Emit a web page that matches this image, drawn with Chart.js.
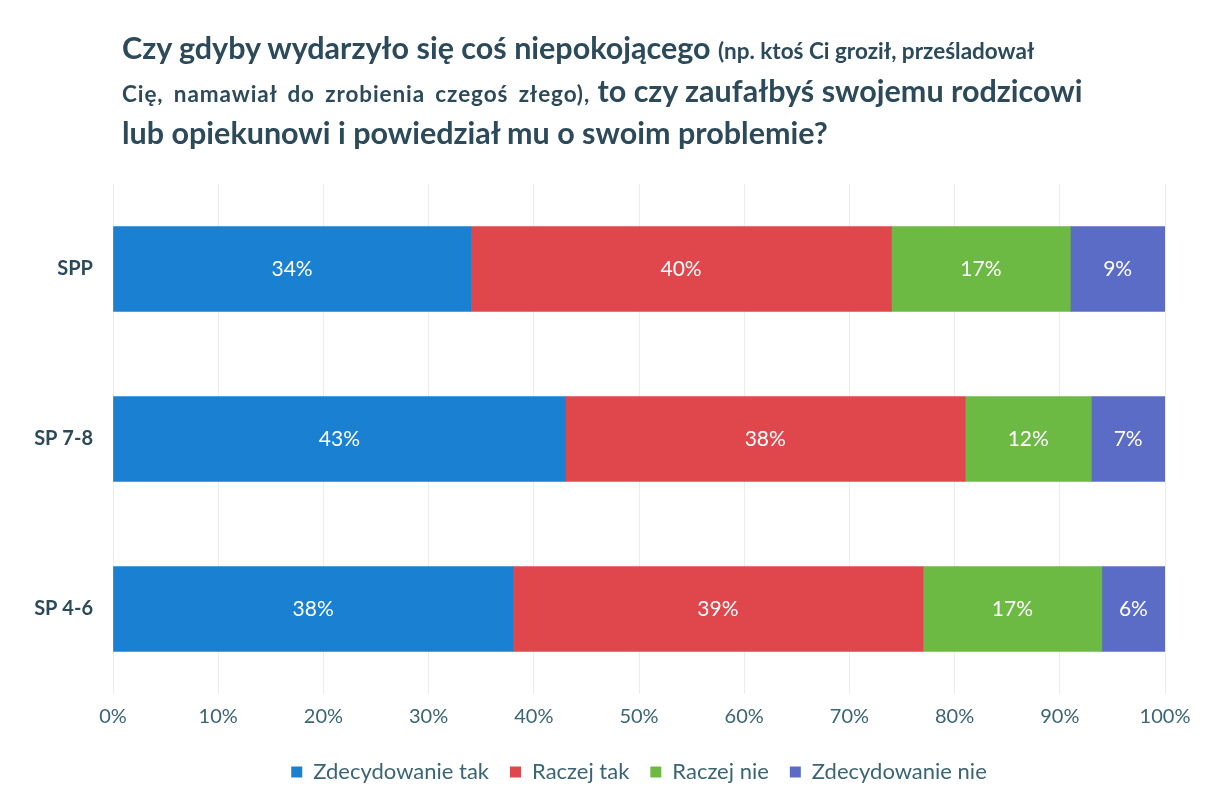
<!DOCTYPE html>
<html>
<head>
<meta charset="utf-8">
<script src="https://cdn.jsdelivr.net/npm/chart.js@4"></script>
<style>
  html, body { margin: 0; padding: 0; background: #fff; }
  #wrap { position: relative; width: 1211px; height: 804px; }
  #title {
    position: absolute; left: 122px; top: 28px; width: 1080px;
    font-family: Lato, "Noto Sans", sans-serif; font-weight: bold;
    color: #2c4a5a; font-size: 30.5px; line-height: 38.5px;
  }
  #title .small { font-size: 22.5px; }
  #title .l2 { word-spacing: 4px; letter-spacing: 0.9px; }
</style>
</head>
<body>
<div id="wrap">
  <div id="title">Czy gdyby wydarzyło się coś niepokojącego <span class="small">(np. ktoś Ci groził, prześladował</span><br><span class="small l2">Cię, namawiał do zrobienia czegoś złego),</span> to czy zaufałbyś swojemu rodzicowi<br>lub opiekunowi i powiedział mu o swoim problemie?</div>
  <canvas id="c" width="1211" height="804"></canvas>
</div>
<script>
  const groups = ["SPP", "SP 7-8", "SP 4-6"];
  const answers = ["Zdecydowanie tak", "Raczej tak", "Raczej nie", "Zdecydowanie nie"];
  const zdecydowanieTak = [34, 43, 38];
  const raczejTak = [40, 38, 39];
  const raczejNie = [17, 12, 17];
  const zdecydowanieNie = [9, 7, 6];
  const colors = ["#1a80d2", "#e0474c", "#6cb944", "#5b6cc6"];

  const values = [zdecydowanieTak, raczejTak, raczejNie, zdecydowanieNie];
  const FONT = "Lato, 'Noto Sans', sans-serif";

  // white % labels in the middle of each segment
  const barLabels = {
    id: "barLabels",
    afterDatasetsDraw(chart) {
      const ctx = chart.ctx;
      ctx.save();
      ctx.font = "21px " + FONT;
      ctx.fillStyle = "#ffffff";
      ctx.textAlign = "center";
      ctx.textBaseline = "middle";
      chart.data.datasets.forEach((ds, i) => {
        chart.getDatasetMeta(i).data.forEach((bar, j) => {
          const x = (bar.x + bar.base) / 2;
          ctx.fillText(ds.data[j] + "%", x, bar.y);
        });
      });
      ctx.restore();
    }
  };

  new Chart(document.getElementById("c"), {
    type: "bar",
    data: {
      labels: groups,
      datasets: answers.map((name, i) => ({
        label: name,
        data: values[i],
        backgroundColor: colors[i],
        borderWidth: 0,
        barThickness: 85
      }))
    },
    options: {
      indexAxis: "y",
      responsive: false,
      animation: false,
      layout: { padding: { top: 184, right: 46, bottom: 11, left: 0 } },
      scales: {
        x: {
          stacked: true,
          min: 0,
          max: 100,
          ticks: {
            stepSize: 10,
            color: "#3b6474",
            padding: 11,
            font: { family: FONT, size: 20 },
            callback: v => v + "%"
          },
          grid: { color: "#ececec", drawTicks: false },
          border: { display: false }
        },
        y: {
          stacked: true,
          afterFit(scale) { scale.width = 113; },
          ticks: {
            color: "#2c4a5a",
            padding: 12,
            font: { family: FONT, size: 20, weight: "bold" }
          },
          grid: { display: false },
          border: { display: false }
        }
      },
      plugins: {
        title: { display: false },
        tooltip: { enabled: false },
        legend: {
          position: "bottom",
          fullSize: false,
          labels: {
            boxWidth: 11,
            boxHeight: 11,
            padding: 21,
            color: "#3b6474",
            font: { family: FONT, size: 22 }
          }
        }
      }
    },
    plugins: [barLabels]
  });
</script>
</body>
</html>
